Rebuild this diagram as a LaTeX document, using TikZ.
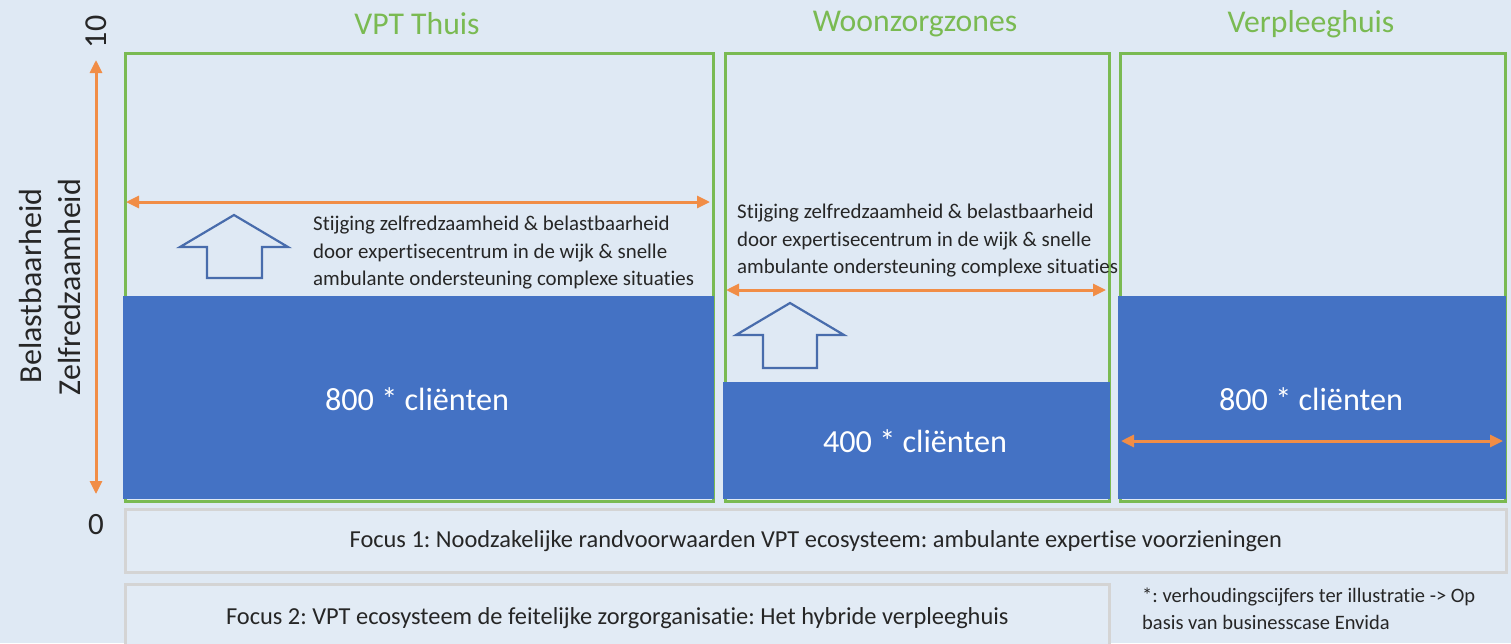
\documentclass[tikz,border=0pt]{standalone}
\usepackage{fontspec}
\setmainfont{Carlito}[Ligatures={NoCommon}, RawFeature={-liga}]
\usetikzlibrary{arrows.meta}
\frenchspacing
\definecolor{bgc}{RGB}{223,233,244}
\definecolor{grn}{RGB}{122,186,82}
\definecolor{blu}{RGB}{68,114,196}
\definecolor{org}{RGB}{241,141,70}
\definecolor{arrb}{RGB}{72,108,172}
\definecolor{txt}{RGB}{38,38,38}
\definecolor{gry}{RGB}{212,212,212}
\tikzset{
  frame/.style={draw=grn, line width=3pt, anchor=north west, inner sep=0pt},
  fillblk/.style={fill=blu, anchor=north west, inner sep=0pt},
  title/.style={text=grn, font=\fontsize{31.7}{36}\selectfont},
  count/.style={text=white, font=\fontsize{32.2}{36}\selectfont},
  dimarr/.style={draw=org, line width=3pt, {Triangle[length=13pt,width=12pt]}-{Triangle[length=13pt,width=12pt]}},
  note/.style={text=txt, align=left, anchor=west, inner sep=0pt},
  stijg/.style={note, font=\fontsize{20.9}{27.5}\selectfont},
  focus/.style={draw=gry, line width=2.5pt, fill=bgc!90!white, anchor=north west, inner sep=0pt},
  focustxt/.style={text=txt, font=\fontsize{24.4}{27}\selectfont},
  axislbl/.style={text=txt, font=\fontsize{32}{36}\selectfont, rotate=90},
  blockarr/.style={draw=arrb, line width=2.2pt, line join=miter}
}
\begin{document}
\begin{tikzpicture}[x=1pt,y=-1pt]
\fill[bgc] (0,0) rectangle (1511,643);
\useasboundingbox (0,0) rectangle (1511,643);

% titles
\node[title] (t1) at (417,24) {VPT Thuis};
\node[title] (t2) at (915,24) {Woonzorgzones};
\node[title] (t3) at (1311,24) {Verpleeghuis};

% green frames
\node[frame, minimum width=588pt, minimum height=448pt] (b1) at (124,52) {};
\node[frame, minimum width=384pt, minimum height=448pt] (b2) at (724,52) {};
\node[frame, minimum width=385pt, minimum height=448pt] (b3) at (1119,52) {};

% blue fills
\node[fillblk, minimum width=591pt, minimum height=203pt] (f1) at (122.5,296) {};
\node[fillblk, minimum width=387pt, minimum height=117pt] (f2) at (722.5,382) {};
\node[fillblk, minimum width=388pt, minimum height=203pt] (f3) at (1117.5,296) {};

\node[count] (c1) at (417,399) {800 * cliënten};
\node[count] (c2) at (915,441) {400 * cliënten};
\node[count] (c3) at (1311,399) {800 * cliënten};

% orange dimension arrows
\coordinate (a1l) at (126,202); \coordinate (a1r) at (710,202);
\coordinate (a2l) at (726,290); \coordinate (a2r) at (1106,290);
\coordinate (a3l) at (1121,441); \coordinate (a3r) at (1503,441);
\draw[dimarr] (a1l) -- (a1r);
\draw[dimarr] (a2l) -- (a2r);
\draw[dimarr] (a3l) -- (a3r);

% vertical axis
\coordinate (axtop) at (96,60); \coordinate (axbot) at (96,494);
\draw[dimarr] (axbot) -- (axtop);
\node[axislbl] (ten) at (96,32) {10};
\node[text=txt, font=\fontsize{31}{36}\selectfont] (zero) at (96,525) {0};
\node[axislbl] (lbl1) at (31,286) {Belastbaarheid};
\node[axislbl] (lbl2) at (70,287) {Zelfredzaamheid};

% block arrows
\draw[blockarr] (234,215) -- (288,247) -- (262,247) -- (262,278) -- (207,278) -- (207,247) -- (180,247) -- cycle;
\draw[blockarr] (790,303) -- (844,335) -- (817,335) -- (817,368) -- (763,368) -- (763,335) -- (736,335) -- cycle;

% notes
\node[stijg] (n1) at (313,253) {Stijging zelfredzaamheid \& belastbaarheid\\door expertisecentrum in de wijk \& snelle\\ambulante ondersteuning complexe situaties};
\node[stijg] (n2) at (737,241) {Stijging zelfredzaamheid \& belastbaarheid\\door expertisecentrum in de wijk \& snelle\\ambulante ondersteuning complexe situaties};

% focus boxes
\node[focus, minimum width=1381pt, minimum height=63pt] (fo1) at (124,508) {};
\node[focustxt] at (fo1.center) {Focus 1: Noodzakelijke randvoorwaarden VPT ecosysteem: ambulante expertise voorzieningen};
\node[focus, minimum width=984pt, minimum height=64pt] (fo2) at (124,583) {};
\node[focustxt] at ([yshift=-2pt]fo2.center) {Focus 2: VPT ecosysteem de feitelijke zorgorganisatie: Het hybride verpleeghuis};

\node[note, font=\fontsize{20.5}{27}\selectfont] (fn) at (1142,609) {*: verhoudingscijfers ter illustratie -> Op\\basis van businesscase Envida};
\end{tikzpicture}
\end{document}
